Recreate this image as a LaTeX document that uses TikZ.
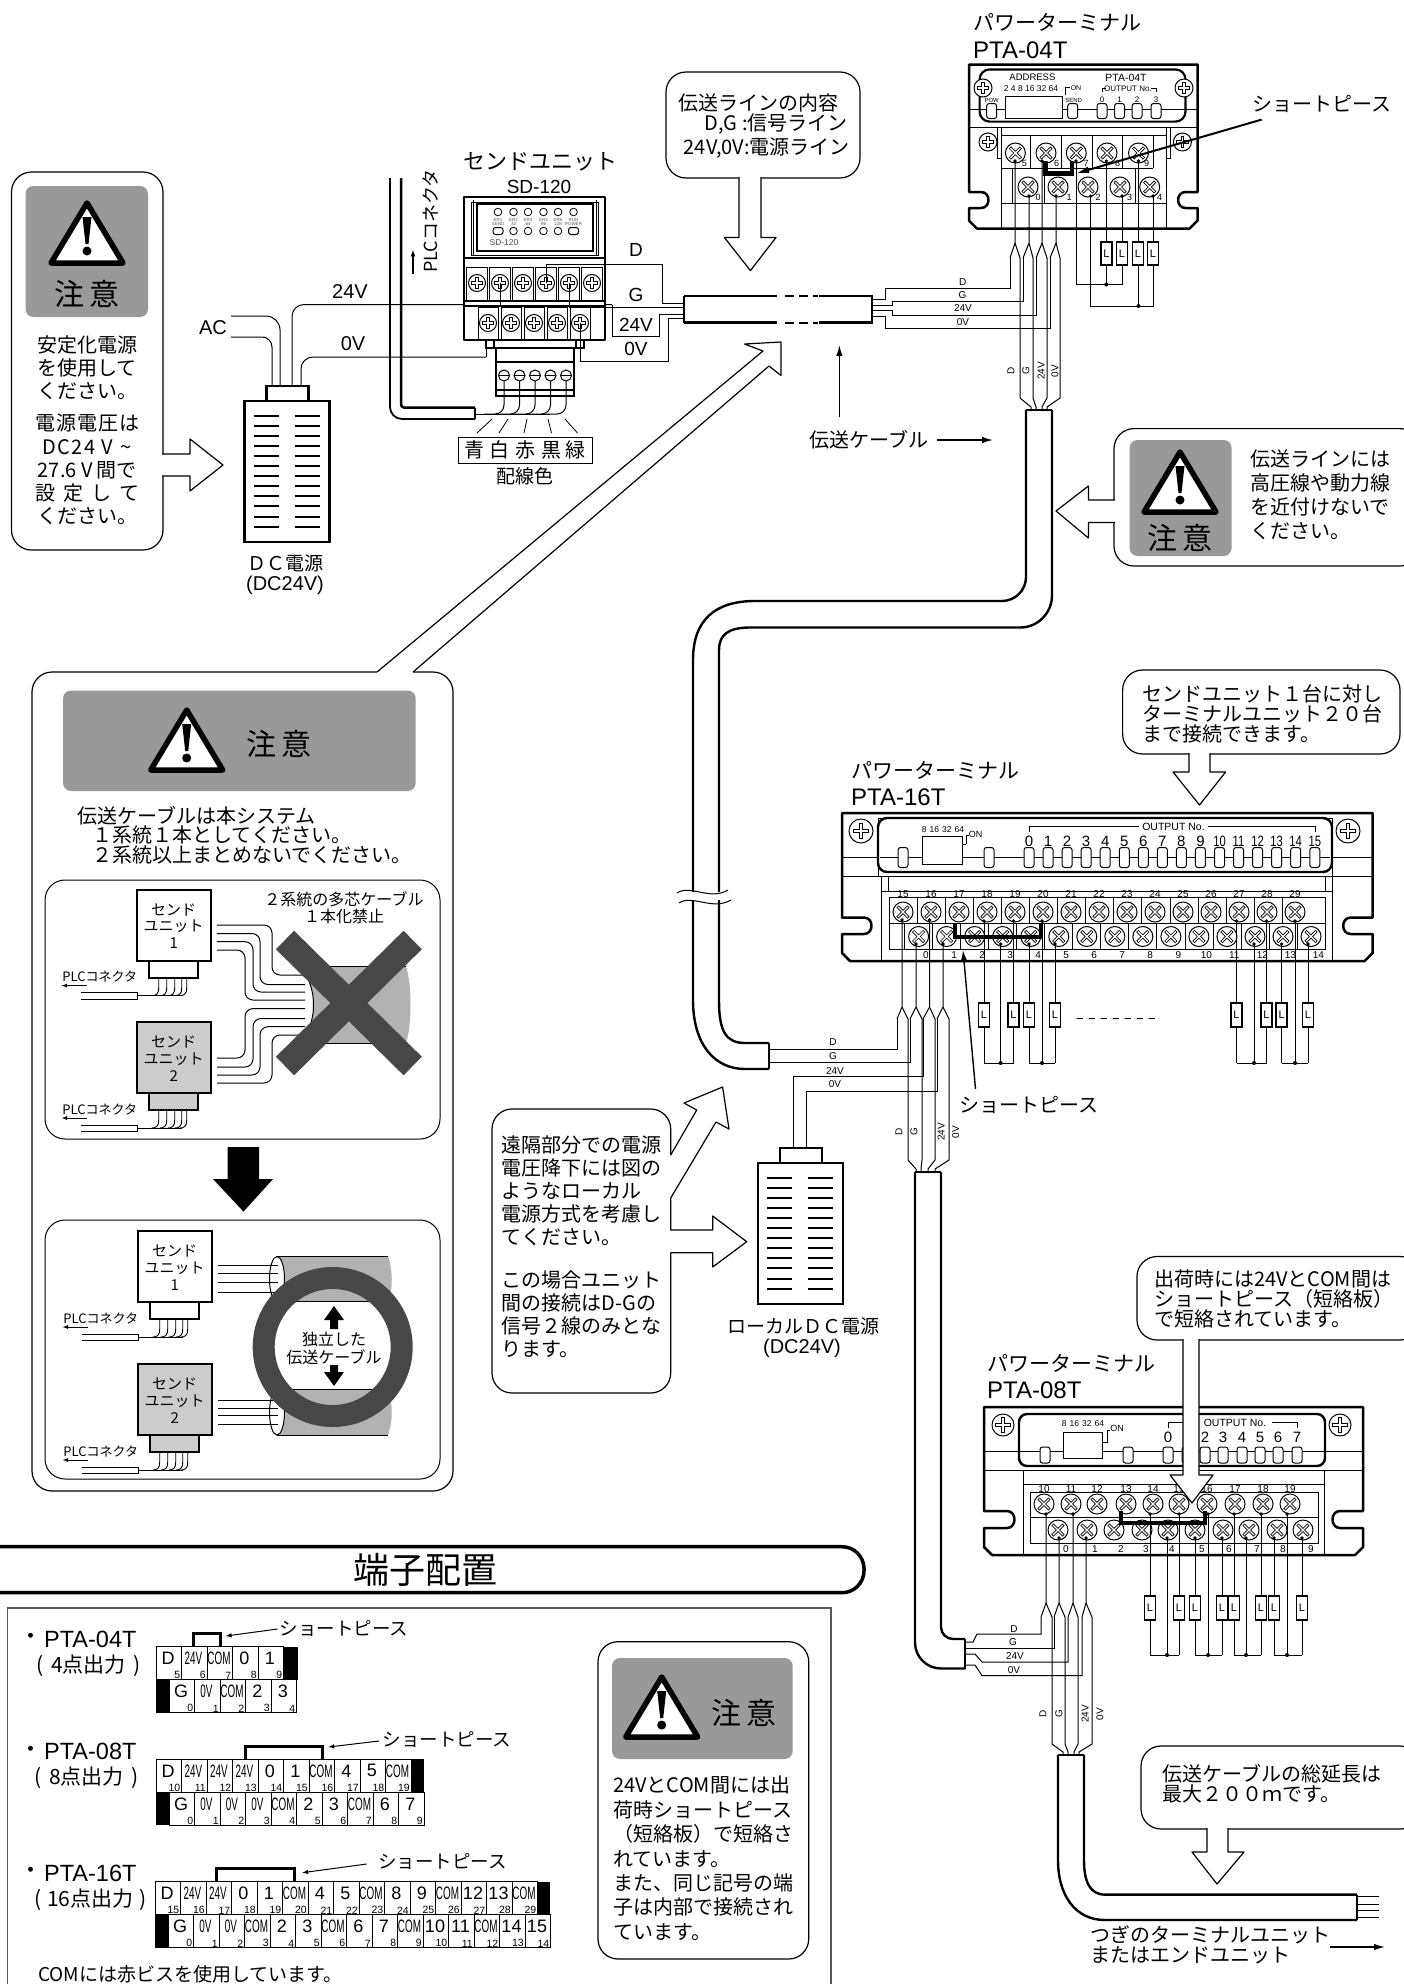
\documentclass[tikz,border=0pt]{standalone}
\usepackage{fontspec}
\usepackage{graphicx}
\usetikzlibrary{arrows.meta}
\setmainfont{Liberation Sans}
\newfontfamily\jp{Noto Sans CJK JP}

\newcommand{\cond}[1]{\scalebox{.55}[1]{#1}}

\tikzset{
    la/.style={font=\fontsize{#1}{#1}\selectfont, inner sep=0pt},
    ja/.style 2 args={font=\jp\fontsize{#1}{#2}\selectfont, inner sep=0pt, align=left},
    bold/.style={line width=2.5pt, line join=round},
    wire/.style={line width=1pt},
    callout/.style={line width=1.2pt, fill=white, line join=round},
    panelbg/.style={fill=black!40, rounded corners=8pt},
    arr/.style={-{Latex[length=11pt,width=6.5pt]}, line width=1.4pt}
}

% warning triangle, apex at (#1,#2)
\newcommand{\warntri}[2]{
    \draw[line width=5.5pt, line join=round, fill=white] (#1,#2+3) -- ++(36,60) -- ++(-72,0) -- cycle;
    \fill (#1-4.5,#2+17) -- (#1+4.5,#2+17) -- (#1+1.5,#2+44) -- (#1-1.5,#2+44) -- cycle;
    \fill (#1,#2+51) circle (4.5);
}
\newcommand{\screwp}[3]{
    \draw[fill=white, line width=1pt] (#1,#2) circle (#3);
    \draw[line width=3.2pt] ({#1-.7*#3},#2) -- ({#1+.7*#3},#2) (#1,{#2-.7*#3}) -- (#1,{#2+.7*#3});
    \draw[white, line width=1.3pt] ({#1-.6*#3},#2) -- ({#1+.6*#3},#2) (#1,{#2-.6*#3}) -- (#1,{#2+.6*#3});
}
\newcommand{\screwx}[3]{
    \draw[fill=white, line width=1pt] (#1,#2) circle (#3);
    \draw[line width=3pt] ({#1-.55*#3},{#2-.55*#3}) -- ({#1+.55*#3},{#2+.55*#3}) ({#1-.55*#3},{#2+.55*#3}) -- ({#1+.55*#3},{#2-.55*#3});
    \draw[white, line width=1.3pt] ({#1-.5*#3},{#2-.5*#3}) -- ({#1+.5*#3},{#2+.5*#3}) ({#1-.5*#3},{#2+.5*#3}) -- ({#1+.5*#3},{#2-.5*#3});
}
\newcommand{\capsule}[4]{
    \draw[fill=white, line width=1pt, rounded corners=2.5pt] (#1-#3/2,#2-#4/2) rectangle (#1+#3/2,#2+#4/2);
}
% load box: name, x, top, bottom
\newcommand{\loadbox}[4]{
    \draw[fill=white, line width=1.8pt] (#2-5.5,#3) rectangle (#2+5.5,#4);
    \node[la=11] (#1) at (#2,{(#3+#4)/2}) {L};
}
% outline of a terminal: x1, y1, x2, y2, notch top, notch bottom, depth
\newcommand{\termbody}[7]{
    \draw[bold, fill=white] (#1,#2) -- (#3,#2) -- (#3,#5) -- (#3-#7,#5) .. controls (#3-#7-10,#5) and (#3-#7-10,#6) .. (#3-#7,#6) -- (#3,#6) -- (#3,#4-8) -- (#3-8,#4) -- (#1+8,#4) -- (#1,#4-8) -- (#1,#6) -- (#1+#7,#6) .. controls (#1+#7+10,#6) and (#1+#7+10,#5) .. (#1+#7,#5) -- (#1,#5) -- cycle;
}
% power supply at the top left of its body
\newcommand{\powersupply}[2]{
    \draw[line width=2.2pt, fill=white] (#1+22,#2-15) rectangle (#1+64,#2);
    \draw[line width=2.2pt, fill=white] (#1,#2) rectangle (#1+85,#2+141);
    \foreach \b in {0,...,11} {
        \draw[line width=2pt] (#1+9,#2+15+\b*10.05) -- ++(25,0);
        \draw[line width=2pt] (#1+50,#2+15+\b*10.05) -- ++(25,0);
    }
}
% small send unit: name, x, y, fill, digit
\newcommand{\sendunit}[5]{
    \draw[line width=2pt, fill=#4] (#2+12.5,#3+71) rectangle (#2+61.5,#3+88);
    \draw[line width=2.2pt, fill=#4] (#2,#3) rectangle (#2+74,#3+71);
    \node[ja={15}{15}] (#1a) at (#2+37,#3+20) {センド};
    \node[ja={15}{15}] (#1b) at (#2+37,#3+37) {ユニット};
    \node[ja={15}{15}] (#1c) at (#2+37,#3+54) {#5};
    \foreach \w in {22,30,38,45,50} {
        \draw[line width=.9pt] (#2+\w,#3+88) -- (#2+\w,#3+98) .. controls (#2+\w,#3+105) and (#2+\w-3,#3+106) .. (#2+\w-7,#3+106);
    }
    \draw[line width=.9pt] (#2+1,#3+106) -- (#2+45,#3+106);
    \draw[line width=.9pt] (#2+1,#3+109.5) -- (#2-56,#3+109.5) (#2-56,#3+103) -- (#2+1,#3+103) -- (#2+1,#3+109.5);
    \node[ja={13}{13}] (#1p) at (#2-37,#3+87) {PLCコネクタ};
    \draw[-latex, line width=.9pt] (#2-50,#3+96) -- (#2-75,#3+96);
}
% row of a terminal table: name, x, y, list of label/number
\newcommand{\termrow}[4]{
    \foreach \lab/\num [count=\c from 0] in {#4} {
        \draw[line width=.9pt] (#2+\c*25.5,#3) rectangle ++(25.5,33);
        \node[la=18] (#1\c) at (#2+12+\c*25.5,#3+11.5) {\lab};
        \node[la=10.5, anchor=south east] (#1n\c) at (#2+24.5+\c*25.5,#3+32.5) {\num};
    }
}

\begin{document}
\begin{tikzpicture}[x=1pt,y=-1pt]
    \clip (0,0) rectangle (1404,1984);
    \fill[white] (0,0) rectangle (1404,1984);

    % ---- left caution
    \draw[callout, rounded corners=20pt] (11.5,172) rectangle (163,550);
    \draw[callout] (162,454) -- (190,454) -- (190,439) -- (223,465) -- (190,491) -- (190,476) -- (162,476);
    \fill[panelbg] (25.5,186) rectangle (148,317);
    \warntri{87}{200}
    \node[ja={30}{30}] (note1) at (87,294) {注\hspace{5pt}意};
    \node[ja={20}{23.2}, align=center, anchor=north] (stab1) at (87,335) {安定化電源\\を使用して\\ください。};
    \node[ja={20}{23.2}, align=center, anchor=north] (stab2) at (87,414) {電\hspace{1pt}源\hspace{1pt}電\hspace{1pt}圧\hspace{1pt}は\\D\hspace{1.5pt}C\hspace{1.5pt}2\hspace{1.5pt}4\hspace{6pt}V\hspace{8pt}\textasciitilde\\27.6\hspace{5pt}V\hspace{3pt}間で\\設\hspace{8pt}定\hspace{8pt}し\hspace{8pt}て\\ください。};

    % ---- power supply and its leads
    \node[la=20] (ac) at (213,328) {AC};
    \draw[wire, rounded corners=14pt] (231,316) -- (280,316) -- (280,386);
    \draw[wire, rounded corners=10pt] (231,337) -- (272,337) -- (272,386);
    \draw[wire, rounded corners=12pt] (292,386) -- (292,304.5) -- (612,304.5);
    \draw[wire] (612,304.5) -- (612,336) -- (659,336) -- (659,314) -- (684,314);
    \draw[wire, rounded corners=12pt] (301,386) -- (301,357) -- (486,357);
    \draw[wire] (486,357) -- (486,323);
    \powersupply{244.5}{401}
    \node[ja={19}{19}] (dcname) at (285,563) {ＤＣ電源};
    \node[la=20] (dcvolt) at (285,585) {(DC24V)};
    \node[la=20] (l24) at (350,292) {24V};
    \node[la=20] (l0) at (353,344) {0V};

    % ---- PLC connector cable
    \draw[line width=1.8pt, rounded corners=12pt] (390,178) -- (390,419) -- (475,419);
    \draw[line width=2.5pt, rounded corners=3pt] (401,178) -- (401,407.5) -- (475,407.5);
    \draw[line width=2pt] (475,407.5) -- (475,419);
    \node[ja={18}{18}, rotate=90] (plc) at (431,221) {PLCコネクタ};
    \draw[-latex, line width=1.2pt] (413,274) -- (413,250);

    % ---- send unit
    \node[ja={22}{22}] (sendname) at (540,162) {センドユニット};
    \node[la=19] (sendtype) at (539,187) {SD-120};
    \draw[bold, fill=white] (464,197) rectangle (605,340);
    \draw[line width=1pt] (471,202) rectangle (598,255);
    \draw[line width=1pt] (473,200) -- (473,255) (596,200) -- (596,255);
    \draw[line width=1.4pt] (477,204) rectangle (593,251);
    \foreach \xa/\ta/\tb [count=\i] in {498/ER1/SEND,513.5/ER2/32,528/ER3/64,543.5/ER4/96,558/ER5/128,573.5/RUN/POWER} {
        \draw[line width=.8pt] (\xa,212) circle (3.8);
        \node[font=\fontsize{4.5}{4.5}\selectfont, text=black!65, inner sep=0pt, align=center] (led\i) at (\xa,222) {\ta\\\tb};
    }
    \foreach \xa in {513.5,528,543.5,558} \draw[line width=.8pt] (\xa,231) circle (3.8);
    \capsule{498}{231}{10}{7} \capsule{573.5}{231}{10}{7}
    \node[font=\fontsize{8.5}{8.5}\selectfont, text=black!70, inner sep=0pt] (sdtag) at (504,243) {SD-120};
    \draw[line width=1.5pt] (464,258) -- (605,258);
    \draw[line width=1.2pt] (464,301) -- (605,301) (464,306) -- (605,306);
    \foreach \xa in {477,500,523,546,569,592} {
        \draw[line width=1pt] (\xa-10.5,267) rectangle (\xa+10.5,301);
        \screwp{\xa}{283}{8.5}
    }
    \foreach \xa in {488,511,534,557,580} {
        \draw[line width=1pt] (\xa-10,307) rectangle (\xa+10,340);
        \screwp{\xa}{323}{8.5}
    }
    \draw[wire] (500,283) -- (500,304.5);
    \draw[wire] (546,283) -- (546,264.5) -- (662,264.5) -- (662,303) -- (684,303);
    \draw[wire] (569,283) -- (569,307) -- (684,307);
    \draw[wire] (580,323) -- (580,361) -- (668,361) -- (668,318) -- (684,318);
    \node[la=19] (ld) at (636,250) {D};
    \node[la=19] (lg) at (636,295) {G};
    \node[la=19] (l24b) at (636,324.5) {24V};
    \node[la=19] (l0b) at (636,349) {0V};

    % ---- plug and colours
    \draw[line width=1.5pt] (486,340) -- (486,348) -- (496,348) (584,340) -- (584,348) -- (574,348) (494,340) -- (494,348) (576,340) -- (576,348);
    \draw[line width=2pt, fill=white] (496,348) rectangle (574,396);
    \draw[line width=1.2pt] (496,362) -- (574,362) (496,390) -- (574,390);
    \foreach \xa in {504,519.5,535,550.5,566} {
        \draw[wire, rounded corners=9pt] (\xa,375) -- (\xa,414) -- (\xa-20,414);
        \draw[line width=1pt, fill=white] (\xa,375.5) circle (5.5);
        \draw[line width=1pt] (\xa-5.5,375.5) -- (\xa+5.5,375.5);
    }
    \draw[wire] (475,414) -- (550,414);
    \foreach \xa/\xb in {492/477,508/499,527/524,548/551.5,565/577.5} {
        \draw[line width=.8pt] (\xa,419) -- (\xb,433);
    }
    \draw[line width=1pt] (458.5,437) rectangle (592,463);
    \foreach \xa/\cn [count=\i] in {474/青,499/白,525/赤,551/黒,575/緑} {
        \node[ja={20}{20}] (wirec\i) at (\xa,450) {\cn};
    }
    \node[ja={19}{19}] (wirecap) at (525,476) {配線色};

    % ---- first cable piece
    \draw[line width=2.8pt] (684,296) -- (684,322.5) (684,296) -- (777,296) (684,322.5) -- (777,322.5) (819,296) -- (872,296) -- (872,322.5) -- (819,322.5);
    \draw[line width=2pt, dash pattern=on 9pt off 5pt] (785,296) -- (818,296) (785,322.5) -- (818,322.5);
    \draw[arr] (839.4,417) -- (839.4,345);
    \node[ja={20}{20}] (cablename) at (869,440) {伝送ケーブル};
    \draw[arr] (937,440) -- (993,440);
    \draw[callout, rounded corners=20pt] (666,72) rectangle (860,178);
    \draw[callout] (739,177) -- (739,237.5) -- (724.4,237.5) -- (750.4,270.6) -- (776,237.5) -- (761,237.5) -- (761,177);
    \node[ja={20}{24}] (lineinfo1) at (758,103) {伝送ラインの内容};
    \node[ja={20}{24}, anchor=east] (lineinfo2) at (848,124.5) {D,G :信号ライン};
    \node[ja={20}{24}, anchor=east] (lineinfo3) at (850,148) {24V,0V:電源ライン};

    % ---- PTA-04T
    \node[ja={21}{21}, anchor=west] (t04a) at (973,22.4) {パワーターミナル};
    \node[la=24, anchor=west] (t04b) at (973,50) {PTA-04T};
    \termbody{969}{64.5}{1197.6}{228.6}{192}{208}{12}
    \draw[wire] (969,109.4) -- (1197.6,109.4) (969,127.8) -- (1197.6,127.8);
    \draw[line width=2.2pt, rounded corners=10pt] (979.6,69.4) rectangle (1185.5,121.6);
    \screwp{983}{88}{9} \screwp{1184}{88}{9}
    \draw[wire, fill=white] (1005.6,96) rectangle (1062.4,118.4);
    \node[font=\fontsize{9.5}{9.5}\selectfont, inner sep=0pt] (addr) at (1032.4,77.5) {ADDRESS};
    \node[la=8.5] (addrn) at (1031,89) {2 4 8 16 32 64};
    \node[la=10.5] (t04tag) at (1126,78) {PTA-04T};
    \node[la=7] (t04on) at (1076,88) {ON};
    \node[la=6] (t04send) at (1073.6,100) {SEND};
    \node[la=6] (t04pow) at (991.7,100) {POW};
    \node[la=8] (t04out) at (1128,88.6) {OUTPUT No.};
    \draw[line width=.8pt] (1065.5,95) -- (1065.5,87) -- (1070,87) (1102,92) -- (1102,88) -- (1106,88) (1151,88) -- (1156,88) -- (1156,92);
    \capsule{991.7}{111}{10}{15} \capsule{1072.7}{111}{10}{15}
    \foreach \xa/\nm in {1102/0,1119.5/1,1137/2,1156/3} {
        \capsule{\xa}{111}{10}{15}
        \node[la=8] (t04o\nm) at (\xa,100) {\nm};
    }
    \draw[wire] (997.5,127.8) -- (997.5,158) -- (1001,158) (1170,127.8) -- (1170,158) -- (1166,158);
    \screwp{988}{142}{9} \screwp{1182.4}{142}{9}
    \draw[wire] (1001,127.8) -- (1001,228.6) (1166,127.8) -- (1166,228.6) (1001,135.5) -- (1166,135.5) (1001,203) -- (1166,203) (1001,168) -- (1153,168);
    \foreach \xa in {1030,1061.5,1092,1122,1153} \draw[wire] (\xa,135.5) -- (\xa,168);
    \foreach \xa in {1012,1044.5,1076,1106,1135.4} \draw[wire] (\xa,168) -- (\xa,203);
    \foreach \xa/\xb/\nm in {1015.4/1024.4/5,1046/1056.6/6,1076.3/1086/7,1107/1117.5/8,1138.5/1146.6/9} {
        \screwx{\xa}{153}{10}
        \node[la=9] (t04a\nm) at (\xb,163) {\nm};
    }
    \foreach \xa/\xb/\nm in {1028/1038/0,1058/1069/1,1088/1098/2,1120/1129.6/3,1149.7/1159.6/4} {
        \screwx{\xa}{187}{10}
        \node[la=9] (t04b\nm) at (\xb,197) {\nm};
    }
    \foreach \xa/\xb/\xc/\xd/\ya in {1015/1010/1020/1031/161,1029/1023/1033/1036/196,1042/1036/1047/1042/161,1056/1050/1060/1047/196} {
        \fill (\xa,\ya) circle (1.8);
        \draw[wire] (\xa,\ya) -- (\xa,243) -- (\xc,258) -- (\xc,398) -- (\xd,407) -- (\xd,411);
        \draw[wire] (\xa,243) -- (\xb,258);
    }
    \draw[wire] (872,299) -- (885,299) -- (885,288.6) -- (1010,288.6) -- (1010,258);
    \draw[wire] (872,305) -- (892,305) -- (892,301) -- (1023,301) -- (1023,258);
    \draw[wire] (872,310) -- (892,310) -- (892,315) -- (1036,315) -- (1036,258);
    \draw[wire] (872,316) -- (885,316) -- (885,328.6) -- (1050,328.6) -- (1050,258);
    \node[la=10] (h1) at (962.6,282) {D};
    \node[la=10] (h2) at (962.6,295.5) {G};
    \node[la=10] (h3) at (963,308) {24V};
    \node[la=10] (h4) at (963,322.5) {0V};
    \node[la=10, rotate=90] (v1) at (1011,371) {D};
    \node[la=10, rotate=90] (v2) at (1026,371) {G};
    \node[la=10, rotate=90] (v3) at (1041,371) {24V};
    \node[la=10, rotate=90] (v4) at (1055,371) {0V};
    % loads
    \draw[wire] (1076,161) -- (1076,284.5) -- (1122,284.5) -- (1122,196) (1106.3,161) -- (1106.3,284.5);
    \draw[wire] (1090.6,196) -- (1090.6,306) -- (1153,306) -- (1153,196) (1138.5,161) -- (1138.5,306);
    \foreach \xa/\ya in {1076/161,1106.3/161,1122/196,1138.5/161,1090.6/196,1153/196} \fill (\xa,\ya) circle (1.8);
    \fill (1106.3,284.5) circle (2) (1138.5,306) circle (2);
    \foreach \xa [count=\i] in {1106.3,1122,1138,1153} \loadbox{lfour\i}{\xa}{242}{265.3}
    % short piece
    \draw[line width=4.5pt] (1045.4,161) -- (1045.4,173.5) -- (1072,173.5) -- (1072,161);
    \draw[-{Latex[length=13pt,width=7pt]}, line width=2pt] (1261.6,119.6) -- (1076,173.5);
    \node[ja={20}{20}] (sp04) at (1322,104) {ショートピース};

    % ---- cable down to the PTA-16T
    \draw[line width=2.4pt, rounded corners=24pt] (1026,410) -- (1026,601) -- (800,601);
    \draw[line width=2.4pt] (800,601) -- (755,601) .. controls (715,601) and (693,620) .. (693,660) -- (693,1000) .. controls (693,1045) and (715,1069) .. (745,1069) -- (769,1069);
    \draw[line width=2.4pt, rounded corners=32pt] (1052,410) -- (1052,627.5) -- (800,627.5);
    \draw[line width=2.4pt] (800,627.5) -- (750,627.5) .. controls (728,627.5) and (719,635) .. (719,650) -- (719,1000) .. controls (719,1030) and (725,1043) .. (745,1043) -- (769,1043);
    \draw[line width=2.4pt] (1026,410) -- (1052,410) (769,1043) -- (769,1069);
    \fill[white] (680,892) rectangle (735,900);
    \draw[wire] (677,893) .. controls (690,884) and (710,901) .. (728,890);
    \draw[wire] (679,903) .. controls (692,894) and (712,911) .. (731,900);

    % ---- right caution
    \draw[callout, rounded corners=20pt] (1114,428.6) rectangle (1420,566);
    \draw[callout] (1115,500) -- (1088.4,500) -- (1088.4,486) -- (1056,511) -- (1088.4,538) -- (1088.4,522.4) -- (1115,522.4);
    \fill[panelbg] (1129.6,440) rectangle (1231.6,556);
    \warntri{1180}{449}
    \node[ja={30}{30}] (note2) at (1180,538) {注\hspace{5pt}意};
    \node[ja={20}{24.3}, anchor=north west] (hv) at (1250,449) {伝送ラインには\\高圧線や動力線\\を近付けないで\\ください。};

    % ---- large caution
    \draw[line width=1.2pt, rounded corners=20pt] (377,672) -- (32,672) -- (32,1491) -- (453,1491) -- (453,672) -- (413,672);
    \draw[callout, fill=none] (377,672) -- (763,351) -- (744.5,344) -- (781,342) -- (781,375.5) -- (769,366) -- (413,672);
    \fill[panelbg] (63,690.5) rectangle (415.7,791);
    \warntri{186.7}{707}
    \node[ja={30}{30}] (note3) at (279,744) {注\hspace{5pt}意};
    \node[ja={20}{20}, anchor=west] (rule1) at (77,815.5) {伝送ケーブルは本システム};
    \node[ja={20}{20}, anchor=west] (rule2) at (92,835) {１系統１本としてください。};
    \node[ja={20}{20}, anchor=west] (rule3) at (92,855) {２系統以上まとめないでください。};
    \draw[wire, rounded corners=20pt] (45,880) rectangle (440,1139);
    \draw[wire, rounded corners=20pt] (45,1220) rectangle (440,1479);
    \fill (227.7,1147) -- (259,1147) -- (259,1179) -- (273,1179) -- (243.5,1211.6) -- (213,1179) -- (227.7,1179) -- cycle;

    % bad cabling
    \sendunit{ua}{136.7}{889.6}{white}{1}
    \sendunit{ub}{136.7}{1022}{black!20}{2}
    \node[ja={16}{17}, align=center] (multi) at (344,908) {２系統の多芯ケーブル\\１本化禁止};
    \fill[black!30] (300,966) -- (406,966) .. controls (412,985) and (412,1025) .. (406,1043) -- (300,1043) .. controls (318,1030) and (318,980) .. (300,966);
    \draw[wire] (297,966) -- (406,966) (297,1043) -- (406,1043);
    \draw[wire] (297,966) .. controls (319,980) and (319,1030) .. (297,1043);
    \foreach \ya/\xa/\yb in {925/272/975,933.5/260/984.5,941.7/253/992,950/245/1000,1083/272/1035,1075/260/1026.7,1067/253/1018.5,1058/245/1008.6} {
        \draw[wire, rounded corners=8pt] (217,\ya) -- (\xa,\ya) -- (\xa,\yb) -- (305,\yb);
    }
    \draw[black!72, line width=26pt] (285,940) -- (412.7,1066) (412.7,940) -- (285,1066);

    % good cabling
    \sendunit{uc}{137.7}{1231}{white}{1}
    \sendunit{ud}{137.7}{1364}{black!20}{2}
    \fill[black!30] (277,1256.5) -- (388,1256.5) .. controls (393,1270) and (393,1290) .. (388,1302) -- (277,1302) -- cycle;
    \fill[black!30] (277,1390) -- (388,1390) .. controls (393,1405) and (393,1420) .. (388,1435) -- (277,1435) -- cycle;
    \draw[wire] (277,1256.5) -- (388,1256.5) (277,1435) -- (388,1435);
    \draw[wire, fill=white] (277,1279) ellipse (7.5 and 22.5);
    \draw[wire, fill=white] (277,1412.5) ellipse (7.5 and 22.5);
    \foreach \ya in {1265,1273,1282,1292,1400,1408,1415,1424} \draw[wire] (218,\ya) -- (278,\ya);
    \fill[white] (270,1302) rectangle (395,1390);
    \draw[wire] (272,1301.7) -- (393,1301.7) (272,1389.5) -- (393,1389.5);
    \draw[black!72, line width=22pt] (332.7,1347) circle (69);
    \node[ja={16}{18}, align=center] (indep) at (334,1348) {独立した\\伝送ケーブル};
    \fill (334,1306) -- (344,1320) -- (338,1320) -- (338,1329) -- (330,1329) -- (330,1320) -- (324,1320) -- cycle;
    \fill (334,1386) -- (344,1372) -- (338,1372) -- (338,1365) -- (330,1365) -- (330,1372) -- (324,1372) -- cycle;

    % ---- PTA-16T
    \node[ja={21}{21}, anchor=west] (t16a) at (851,770) {パワーターミナル};
    \node[la=24, anchor=west] (t16b) at (851,797) {PTA-16T};
    \termbody{842}{813}{1372.7}{961}{917.5}{934}{22}
    \draw[wire] (842,857) -- (1372.7,857) (842,876) -- (1372.7,876);
    \draw[wire] (878,818) rectangle (1332,876);
    \draw[line width=2.4pt, fill=white, rounded corners=9pt] (878,818) rectangle (1332,872);
    \draw[wire] (880,857) -- (1330,857);
    \screwp{861}{831}{12} \screwp{1348}{831}{12}
    \draw[wire, fill=white] (922,836) rectangle (962,864);
    \node[la=8.5] (t16dip) at (943,830) {8\hspace{3pt}16\hspace{3pt}32\hspace{3pt}64};
    \node[la=9] (t16on) at (975.5,834) {ON};
    \draw[line width=.8pt] (966,844) -- (966,835) -- (969,835) (962,844) -- (966,844);
    \capsule{903}{857.5}{10}{20} \capsule{989}{857.5}{10}{20}
    \foreach \nm in {0,...,15} {
        \capsule{1029+\nm*19.05}{857.5}{10}{20}
        \node[la=15] (t16o\nm) at (1029+\nm*19.05,841.4) {\ifnum\nm>9 \scalebox{.75}[1]{\nm}\else\nm\fi};
    }
    \draw[line width=.8pt] (1029,832) -- (1029,826.4) -- (1139,826.4) (1208,826.4) -- (1315,826.4) -- (1315,832);
    \node[la=10.5] (t16out) at (1173.5,826.4) {OUTPUT No.};
    \draw[wire] (888,876) -- (888,891) (1325,876) -- (1325,891) (881,876) -- (881,961) (1332,876) -- (1332,961);
    \draw[wire] (881,891) -- (1332,891);
    \draw[wire] (889,897) rectangle (1325,949);
    \draw[wire] (889,923) -- (1325,923);
    \foreach \i [count=\n from 15] in {0,...,14} {
        \draw[wire] (889+\i*28.1,897) -- (889+\i*28.1,923);
        \draw[wire] (904+\i*28.1,923) -- (904+\i*28.1,949);
        \screwx{903+\i*28}{912}{10}
        \screwx{918.6+\i*28.03}{936.5}{10}
        \node[la=10] (t16a\i) at (903+\i*28,894) {\n};
        \node[la=10] (t16b\i) at (926+\i*28.03,955) {\i};
    }
    \foreach \xa/\xb/\xc/\xd/\ya in {902/897/908/916/920,916/910/922/921/944,929.5/923/935/928/920,943/937/949/935/944} {
        \fill (\xa,\ya) circle (1.8);
        \draw[wire] (\xa,\ya) -- (\xa,1007) -- (\xc,1019) -- (\xc,1160) -- (\xd,1169) -- (\xd,1173);
        \draw[wire] (\xa,1007) -- (\xb,1019);
    }
    \draw[wire] (769,1049) -- (897,1049) -- (897,1019);
    \draw[wire] (769,1062) -- (910,1062) -- (910,1019);
    \draw[wire] (793,1150) -- (793,1076) -- (923,1076) -- (923,1019);
    \draw[wire] (806,1150) -- (806,1091) -- (937,1091) -- (937,1019);
    \node[la=10] (h5) at (833,1042.5) {D};
    \node[la=10] (h6) at (833,1056) {G};
    \node[la=10] (h7) at (835,1071) {24V};
    \node[la=10] (h8) at (835,1084) {0V};
    \node[la=10, rotate=90] (v5) at (899,1132) {D};
    \node[la=10, rotate=90] (v6) at (914,1132) {G};
    \node[la=10, rotate=90] (v7) at (941,1132) {24V};
    \node[la=10, rotate=90] (v8) at (955.6,1132) {0V};
    % loads
    \foreach \xa/\ya in {984/921,1000.7/944,1013.5/921,1029/944,1042/921,1055/944,1236.5/921,1254/944,1266.5/921,1281.6/944,1295/921,1308/944} {
        \fill (\xa,\ya) circle (1.8);
        \draw[wire] (\xa,\ya) -- (\xa,1063);
    }
    \foreach \xa/\xb/\xc in {984/1000.7/1013.5,1029/1042/1055,1236.5/1254/1266.5,1281.6/1295/1308} {
        \draw[wire] (\xa,1063) -- (\xc,1063);
        \fill (\xb,1063) circle (2);
    }
    \foreach \xa [count=\i] in {984,1013.5,1029,1055,1236.5,1266.5,1281.6,1308} \loadbox{lsix\i}{\xa}{1003}{1027}
    \draw[line width=1.2pt, dash pattern=on 6pt off 6pt] (1076.6,1018.6) -- (1156,1018.6);
    \draw[line width=4pt] (955,923) -- (955,936.5) -- (1040.5,936.5) -- (1040.5,923);
    \draw[arr] (975.5,1089) -- (963,950);
    \node[ja={20}{20}] (sp16) at (1029,1105) {ショートピース};
    \draw[callout, rounded corners=20pt] (1122.6,670) rectangle (1400,754);
    \draw[callout] (1189,753) -- (1189,772) -- (1173,772) -- (1199.5,805) -- (1225.6,772) -- (1210,772) -- (1210,753);
    \node[ja={20}{20}, anchor=north west] (maxunit) at (1142.6,684) {センドユニット１台に対し\\ターミナルユニット２０台\\まで接続できます。};

    % ---- local power supply
    \draw[line width=1.2pt, rounded corners=20pt] (670.7,1155) -- (670.7,1109) -- (492,1109) -- (492,1393) -- (670.7,1393) -- (670.7,1252.7);
    \draw[callout, fill=none] (670.7,1155) -- (696.7,1110) -- (684,1103) -- (722.6,1087) -- (729,1129) -- (716,1122) -- (670.7,1198) -- (670.7,1230) -- (712.7,1230) -- (712.7,1216) -- (746.7,1241.7) -- (712.7,1267) -- (712.7,1252.7) -- (670.7,1252.7);
    \node[ja={20}{23}, anchor=north west] (remote1) at (501.7,1136) {遠隔部分での電源\\電圧降下には図の\\ようなローカル\\電源方式を考慮し\\てください。};
    \node[ja={20}{23}, anchor=north west] (remote2) at (501.7,1271) {この場合ユニット\\間の接続はD-Gの\\信号２線のみとな\\ります。};
    \powersupply{758}{1163}
    \node[ja={19}{19}] (localname) at (803,1326) {ローカルＤＣ電源};
    \node[la=20] (localvolt) at (802,1348) {(DC24V)};

    % ---- cable down to the PTA-08T
    \draw[line width=2.4pt, rounded corners=26pt] (915,1172) -- (915,1668.5) -- (965,1668.5);
    \draw[line width=2.4pt, rounded corners=12pt] (941,1172) -- (941,1639) -- (965,1639);
    \draw[line width=2.4pt] (915,1172) -- (941,1172) (965,1639) -- (965,1668.5);

    % ---- PTA-08T
    \node[ja={21}{21}, anchor=west] (t08a) at (987,1363) {パワーターミナル};
    \node[la=24, anchor=west] (t08b) at (987,1390) {PTA-08T};
    \termbody{984}{1407}{1363}{1555}{1511}{1528}{23}
    \draw[wire] (984,1451) -- (1363,1451) (984,1470) -- (1363,1470);
    \draw[line width=2.4pt, rounded corners=8pt] (1019,1414) rectangle (1325,1466);
    \screwp{1003}{1425}{11} \screwp{1340}{1425}{11}
    \draw[wire, fill=white] (1063,1432.5) rectangle (1102,1458);
    \node[la=8.5] (t08dip) at (1083,1424) {8\hspace{3pt}16\hspace{3pt}32\hspace{3pt}64};
    \node[la=9] (t08on) at (1117,1428) {ON};
    \draw[line width=.8pt] (1102,1442) -- (1107,1442) -- (1107,1430) -- (1110,1430);
    \capsule{1045}{1455}{10}{16} \capsule{1128}{1455}{10}{16}
    \foreach \xa/\nm in {1168/0,1187/1,1205/2,1223/3,1242/4,1260/5,1278/6,1297/7} {
        \capsule{\xa}{1455}{10}{16}
        \node[la=15] (t08o\nm) at (\xa,1437) {\nm};
    }
    \draw[line width=.8pt] (1168,1428) -- (1168,1422) -- (1183,1422) (1272,1422) -- (1297,1422) -- (1297,1428);
    \node[la=10.5] (t08out) at (1235,1423) {OUTPUT No.};
    \draw[wire] (1023,1470) -- (1023,1555) (1324,1470) -- (1324,1555) (1023,1484) -- (1324,1484);
    \draw[wire] (1030,1492) rectangle (1318,1543);
    \draw[wire] (1030,1517.5) -- (1318,1517.5);
    \foreach \xa/\nm [count=\i] in {1044/10,1071/11,1097/12,1126/13,1153/14,1179/15,1207/16,1235/17,1263/18,1290/19} {
        \screwx{\xa}{1504}{10}
        \node[la=10] (t08a\i) at (\xa,1489) {\nm};
    }
    \foreach \xa/\xb/\nm in {1058/1066/0,1087/1095/1,1114/1121/2,1142/1146/3,1168/1172/4,1195/1202/5,1223/1229/6,1249/1257/7,1277/1283/8,1303/1311/9} {
        \screwx{\xa}{1530}{10}
        \node[la=10] (t08b\nm) at (\xb,1549) {\nm};
    }
    \foreach \xa/\xb/\xc/\xd/\ya in {1046/1041/1052/1063/1514,1059/1054/1065/1068/1538,1073/1068/1078/1074/1514,1086/1082/1092/1079/1538} {
        \fill (\xa,\ya) circle (1.8);
        \draw[wire] (\xa,\ya) -- (\xa,1603) -- (\xc,1617) -- (\xc,1744) -- (\xd,1752) -- (\xd,1756);
        \draw[wire] (\xa,1603) -- (\xb,1617);
    }
    \draw[wire] (965,1642) -- (973,1642) -- (977,1634) -- (1041,1634) -- (1041,1617);
    \draw[wire] (965,1648) -- (1054,1648) -- (1054,1617);
    \draw[wire] (965,1654) -- (975,1654) -- (982,1662) -- (1068,1662) -- (1068,1617);
    \draw[wire] (965,1665) -- (975,1665) -- (982,1675.6) -- (1082,1675.6) -- (1082,1617);
    \node[la=10] (h9) at (1014,1629) {D};
    \node[la=10] (h10) at (1013,1642) {G};
    \node[la=10] (h11) at (1015,1656) {24V};
    \node[la=10] (h12) at (1014,1670) {0V};
    \node[la=10, rotate=90] (v9) at (1043,1714) {D};
    \node[la=10, rotate=90] (v10) at (1059,1714) {G};
    \node[la=10, rotate=90] (v11) at (1085,1714) {24V};
    \node[la=10, rotate=90] (v12) at (1100,1714) {0V};
    % loads
    \foreach \xa/\ya in {1150/1514,1167/1538,1179/1514,1195/1538,1208/1514,1222/1538,1234/1514,1246/1538,1261/1514,1274/1538,1287/1514,1302/1538} {
        \fill (\xa,\ya) circle (1.8);
        \draw[wire] (\xa,\ya) -- (\xa,1655);
    }
    \foreach \xa/\xb/\xc in {1150/1167/1179,1195/1208/1222,1234/1246/1261,1274/1287/1302} {
        \draw[wire] (\xa,1655) -- (\xc,1655);
        \fill (\xb,1655) circle (2);
    }
    \foreach \xa [count=\i] in {1150,1179,1195,1222,1234,1261,1274,1302} \loadbox{leight\i}{\xa}{1596}{1620}
    \draw[line width=4pt] (1121,1511) -- (1121,1523) -- (1205,1523) -- (1205,1511);
    \draw[callout, rounded corners=20pt] (1137,1256.5) rectangle (1420,1340);
    \draw[callout] (1183,1339) -- (1183,1475) -- (1170,1475) -- (1192,1503) -- (1213,1475) -- (1199,1475) -- (1199,1339);
    \node[ja={20}{20}, anchor=north west] (ship) at (1154,1269) {出荷時には24VとCOM間は\\ショートピース（短絡板）\\で短絡されています。};

    % ---- last cable
    \draw[line width=2.4pt] (1058,1755) -- (1058,1860) .. controls (1058,1895) and (1075,1920) .. (1105,1920) -- (1357,1920);
    \draw[line width=2.4pt] (1084,1755) -- (1084,1860) .. controls (1084,1882) and (1090,1894.6) .. (1105,1894.6) -- (1357,1894.6);
    \draw[line width=2.4pt] (1058,1755) -- (1084,1755) (1357,1894.6) -- (1357,1920);
    \foreach \ya in {1896,1904,1910,1917} \draw[wire] (1357,\ya) -- (1379,\ya);
    \draw[callout, rounded corners=20pt] (1141,1746) rectangle (1420,1829);
    \draw[callout] (1207,1828) -- (1207,1852) -- (1192,1852) -- (1217,1884) -- (1244,1852) -- (1228,1852) -- (1228,1828);
    \node[ja={20}{20.5}, anchor=north west] (total) at (1162,1764) {伝送ケーブルの総延長は\\最大２００ｍです。};
    \node[ja={20}{20}, anchor=north west] (nextu) at (1090,1925) {つぎのターミナルユニット\\またはエンドユニット};
    \draw[arr] (1330,1947) -- (1385,1947);

    % ---- terminal layout
    \draw[line width=3.5pt, fill=white, rounded corners=22pt] (-12,1546.7) -- (864,1546.7) -- (864,1592.7) -- (-12,1592.7);
    \node[ja={36}{36}] (layout) at (425,1570) {端子配置};
    \draw[line width=1.2pt, black!65] (7.6,1990) -- (7.6,1608) -- (831,1608) -- (831,1990);

    \node[la=23.5, anchor=west] (p04) at (44,1639) {PTA-04T};
    \node[ja={23}{23}] (dot04) at (31,1639) {・};
    \node[ja={21}{21}, anchor=west] (q04) at (36,1666) {(\hspace{8pt}4点出力\hspace{8pt})};
    \termrow{aa}{156}{1646.7}{D/5,\cond{24V}/6,\cond{COM}/7,0/8,1/9}
    \fill (283.5,1646.7) rectangle (298,1679.7);
    \fill (156,1679.7) rectangle (169,1712.7);
    \termrow{ab}{169}{1679.7}{G/0,\cond{0V}/1,\cond{COM}/2,2/3,3/4}
    \draw[line width=3pt] (193.3,1646.7) -- (193.3,1633) -- (220,1633) -- (220,1646.7);
    \draw[-latex, line width=1pt] (277.5,1629) -- (225.8,1636);
    \node[ja={18.5}{18.5}, anchor=west] (sa) at (279.4,1629) {ショートピース};

    \node[la=23.5, anchor=west] (p08) at (44,1751.7) {PTA-08T};
    \node[ja={23}{23}] (dot08) at (31,1751.7) {・};
    \node[ja={21}{21}, anchor=west] (q08) at (34,1778) {(\hspace{8pt}8点出力\hspace{8pt})};
    \termrow{ba}{156}{1759.3}{D/10,\cond{24V}/11,\cond{24V}/12,\cond{24V}/13,0/14,1/15,\cond{COM}/16,4/17,5/18,\cond{COM}/19}
    \fill (411,1759.3) rectangle (424,1792.3);
    \fill (156,1792.3) rectangle (169,1825.3);
    \termrow{bb}{169}{1792.3}{G/0,\cond{0V}/1,\cond{0V}/2,\cond{0V}/3,\cond{COM}/4,2/5,3/6,\cond{COM}/7,6/8,7/9}
    \draw[line width=3pt] (245,1759.3) -- (245,1746) -- (322.6,1746) -- (322.6,1759.3);
    \draw[-latex, line width=1pt] (379,1741) -- (328.4,1747);
    \node[ja={18.5}{18.5}, anchor=west] (sb) at (382.7,1740) {ショートピース};

    \node[la=23.5, anchor=west] (p16) at (44,1873) {PTA-16T};
    \node[ja={23}{23}] (dot16) at (31,1873) {・};
    \node[ja={21}{21}, anchor=west] (q16) at (34,1900) {(\hspace{6pt}16点出力\hspace{6pt})};
    \termrow{ca}{155}{1881.7}{D/15,\cond{24V}/16,\cond{24V}/17,0/18,1/19,\cond{COM}/20,4/21,5/22,\cond{COM}/23,8/24,9/25,\cond{COM}/26,12/27,13/28,\cond{COM}/29}
    \fill (537.5,1881.7) rectangle (549.6,1914.7);
    \fill (155,1914.7) rectangle (168,1947.7);
    \termrow{cb}{168}{1914.7}{G/0,\cond{0V}/1,\cond{0V}/2,\cond{COM}/3,2/4,3/5,\cond{COM}/6,6/7,7/8,\cond{COM}/9,10/10,11/11,\cond{COM}/12,14/13,15/14}
    \draw[line width=3pt] (216,1881.7) -- (216,1868) -- (294,1868) -- (294,1881.7);
    \draw[-latex, line width=1pt] (366.6,1864) -- (302.3,1872.7);
    \node[ja={18.5}{18.5}, anchor=west] (sc) at (378,1862) {ショートピース};
    \node[ja={19}{19}, anchor=west] (red) at (38,1974) {COMには赤ビスを使用しています。};

    % caution in the layout frame
    \draw[callout, rounded corners=20pt] (598,1641.7) rectangle (808.7,1959);
    \fill[panelbg] (612,1658) rectangle (792.7,1759);
    \warntri{661.7}{1674}
    \node[ja={30}{30}] (note4) at (744,1713) {注\hspace{5pt}意};
    \node[ja={20}{24.4}, anchor=north west] (same) at (613,1776) {24VとCOM間には出\\荷時ショートピース\\（短絡板）で短絡さ\\れています。\\また、同じ記号の端\\子は内部で接続され\\ています。};
\end{tikzpicture}
\end{document}
